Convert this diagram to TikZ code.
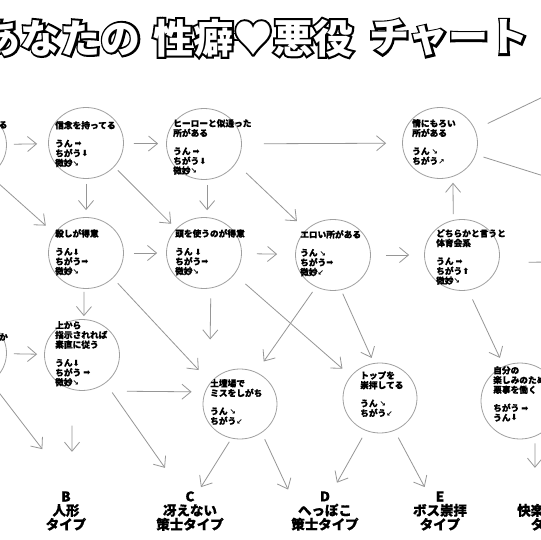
\documentclass[tikz,border=0pt]{standalone}
\usepackage{fontspec}
\usetikzlibrary{arrows.meta,shapes.geometric,calc}
\newfontfamily\cjk{Noto Sans CJK JP}
\newfontfamily\cjkB{Noto Sans CJK JP}[FakeBold=0.6]
\newfontfamily\cjkO{Noto Sans CJK JP}[FakeBold=10]
\newfontfamily\symf{DejaVu Sans}
\newcommand\aR{{\symf\fontsize{8.5}{8.5}\selectfont ➡}}
\newcommand\aD{{\symf\fontsize{8.5}{8.5}\selectfont ⬇}}
\newcommand\aU{{\symf\fontsize{8.5}{8.5}\selectfont ⬆}}
\newcommand\aSE{{\symf\fontsize{7.5}{7.5}\selectfont ↘}}
\newcommand\aSW{{\symf\fontsize{7.5}{7.5}\selectfont ↙}}
\newcommand\aNE{{\symf\fontsize{7.5}{7.5}\selectfont ↗}}
\definecolor{lcol}{RGB}{150,150,150}
\definecolor{ccol}{RGB}{160,160,160}
\newcommand\outlinetext[4]{%
  \node[ttlO,anchor=#3] (#1o) at #2 {#4};
  \node[ttl,anchor=#3,text=white] (#1) at #2 {#4};}
\begin{document}
\begin{tikzpicture}[x=1pt,y=-1pt,
  circ/.style={ellipse,draw=ccol,line width=0.8pt,minimum width=75pt,minimum height=71pt,inner sep=0pt},
  ctext/.style={anchor=north west,inner sep=0pt,align=left,font=\cjkB\bfseries\fontsize{8.7}{9.7}\selectfont},
  lab/.style={align=center,inner sep=0pt,minimum height=44pt,font=\cjkB\bfseries\fontsize{13.5}{14}\selectfont},
  arr/.style={draw=lcol,line width=0.8pt,-{Straight Barb[length=9pt,width=15pt]}},
  ttl/.style={inner sep=0pt,font=\cjk\bfseries\fontsize{40}{40}\selectfont},
  ttlO/.style={inner sep=0pt,text=black,font=\cjkO\bfseries\fontsize{40}{40}\selectfont}]
\useasboundingbox (0,0) rectangle (540,540);
\fill[white] (0,0) rectangle (540,540);

% title
\outlinetext{tA}{(141,38)}{east}{あなたの}
\outlinetext{tB}{(153,38)}{west}{性癖♥悪役}
\outlinetext{tC}{(369,38)}{west}{チャート}

% circles
\node[circ] (L0) at (-31,145) {};
\node[circ] (c1) at (86,143) {};
\node[circ] (c2) at (204,144) {};
\node[circ] (c3) at (440,143) {};
\node[circ] (c4) at (86,253) {};
\node[circ] (c5) at (204,253) {};
\node[circ] (c6) at (333,255) {};
\node[circ] (c7) at (462,255) {};
\node[circ] (L2) at (-31,353) {};
\node[circ] (c9) at (82,355) {};
\node[circ,minimum width=74pt,minimum height=70pt] (c10) at (240,404) {};
\node[circ,minimum width=74pt,minimum height=70pt] (c11) at (380,398) {};
\node[circ,minimum width=78pt,minimum height=76pt] (c8) at (520,401) {};

% circle texts
\node[ctext] (t0) at (-1.5,121) {る};
\node[ctext] (t1) at (55,121) {信念を持ってる\\[8.5pt]うん \aR\\ちがう\aD\\微妙\aSE};
\node[ctext] (t2) at (173,119) {ヒーローと似通った\\所がある\\[8.5pt]うん \aR\\ちがう\aD\\微妙\aSE};
\node[ctext] (t3) at (412,119) {情にもろい\\所がある\\[8.5pt]うん \aSE\\ちがう\aNE};
\node[ctext] (t4) at (55,229) {殺しが得意\\[8.5pt]うん\aD\\ちがう\aR\\微妙\aSE};
\node[ctext] (t5) at (175,229) {頭を使うのが得意\\[8.5pt]うん \aD\\ちがう\aR\\微妙\aSE};
\node[ctext] (t6) at (300,230) {エロい所がある\\[8.5pt]うん \aSE\\ちがう\aR\\微妙\aSW};
\node[ctext] (t7) at (436,229) {どちらかと言うと\\体育会系\\[8.5pt]うん \aR\\ちがう\aU\\微妙\aSE};
\node[ctext] (tL2) at (-1,333) {か};
\node[ctext] (t9) at (55,321) {上から\\指示されれば\\素直に従う\\[8.5pt]うん\aD\\ちがう \aR\\微妙\aSE};
\node[ctext] (t10) at (210,379) {土壇場で\\ミスをしがち\\[8.5pt]うん \aSE\\ちがう\aSW};
\node[ctext] (t11) at (360,371) {トップを\\崇拝してる\\[8.5pt]うん \aSE\\ちがう\aSW};
\node[ctext] (t8) at (493,366) {自分の\\楽しみのため\\悪事を働く\\[8.5pt]ちがう \aR\\うん\aD};

% result labels
\node[lab] (lB) at (66,511) {B\\人形\\タイプ};
\node[lab] (lC) at (190,511) {C\\冴えない\\策士タイプ};
\node[lab] (lD) at (325,511) {D\\へっぽこ\\策士タイプ};
\node[lab] (lE) at (440,511) {E\\ボス崇拝\\タイプ};
\node[lab] (lF) at (551,511) {\phantom{F}\\快楽主義者\\タイプ};

% off-page ends
\coordinate (r3a) at (620,60);
\coordinate (r3b) at (620,200);
\coordinate (r7) at (620,262);

% connectors
\draw[arr,shorten <=7pt,shorten >=11pt] (L0) -- (c1);
\draw[arr,shorten <=10pt,shorten >=8pt] (c1) -- (c2);
\draw[arr,shorten <=22pt,shorten >=16pt] (c2) -- (c3);
\draw[arr,shorten <=3pt,shorten >=11.5pt] (L0.-56) -- (c4.148);
\draw[arr,shorten <=5pt,shorten >=7pt] (c1) -- (c4);
\draw[arr,shorten <=5pt,shorten >=7pt] (c1.-40) -- (c5.139);
\draw[arr,shorten <=5pt,shorten >=7pt] (c2.-85) -- (c5.85);
\draw[arr,shorten <=14pt,shorten >=12.5pt] (c2.-31) -- (c6.137);
\draw[arr,shorten <=10pt,shorten >=9pt] (c4) -- (c5);
\draw[arr,shorten <=15pt,shorten >=18pt] (c5) -- (c6);
\draw[arr,shorten <=15pt,shorten >=15pt] (c6) -- (c7);
\draw[arr,shorten <=6pt,shorten >=6pt] (c7.104) -- (c3.-69);
\draw[arr,shorten <=29.5pt] (c7.-11) -- (r7);
\draw[arr,shorten <=14pt] (c3.21) -- (r3a);
\draw[arr,shorten <=8pt] (c3.-18) -- (r3b);
\draw[arr,shorten <=3pt,shorten >=3pt] (c4.-93) -- (c9.87);
\draw[arr,shorten <=7pt,shorten >=17pt] (c4.-43) -- (c10.144);
\draw[arr,shorten <=10pt,shorten >=44pt] (c5.-79) -- (c10.146);
\draw[arr,shorten <=14.6pt,shorten >=11pt] (c5.-35.5) -- (c11.143.6);
\draw[arr,shorten <=6pt,shorten >=13pt] (c6.-118) -- (c10.63);
\draw[arr,shorten <=4pt,shorten >=5.6pt] (c6.-77) -- (c11.100);
\draw[arr,shorten <=7pt,shorten >=7pt] (L2) -- (c9);
\draw[arr,shorten <=45pt,shorten >=13.3pt] (c9.-90) -- (c10.161);
\draw[arr,shorten <=10pt,shorten >=9pt] (c7.-80) -- (c8.115);
\draw[arr,shorten <=5pt,shorten >=50pt] (L2.-53) -- (lB.73.5);
\draw[arr,shorten <=36pt,shorten >=37pt] (c9.-106) -- (lB.75);
\draw[arr,shorten <=11.5pt,shorten >=25.6pt] (c9.-50) -- (lC.115);
\draw[arr,shorten <=4pt,shorten >=2pt] (c10.-104) -- (lC.66);
\draw[arr,shorten <=7pt,shorten >=7pt] (c10.-53) -- (lD.156);
\draw[arr,shorten <=8pt,shorten >=7pt] (c11.-113) -- (lD.69);
\draw[arr,shorten <=8pt,shorten >=2pt] (c11.-66) -- (lE.123);
\draw[arr,shorten <=7pt,shorten >=21pt] (c8.-67) -- (lF.126);
\end{tikzpicture}
\end{document}
